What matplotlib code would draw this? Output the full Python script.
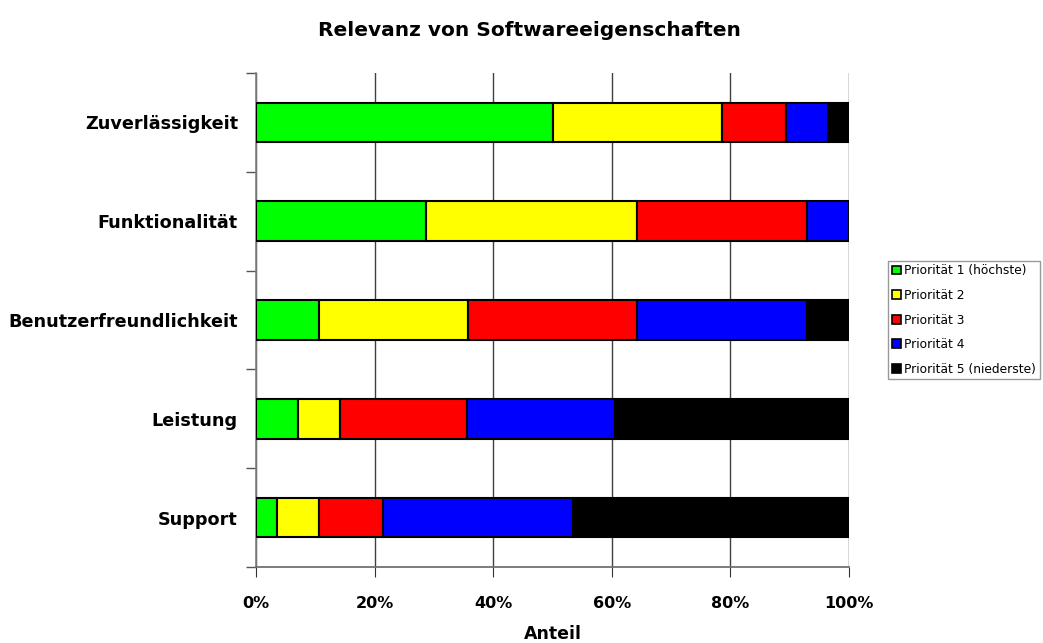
import matplotlib.pyplot as plt
import matplotlib.ticker as mticker
import numpy as np

# Kategorien (von oben nach unten)
kategorien = ['Zuverlässigkeit', 'Funktionalität', 'Benutzerfreundlichkeit', 'Leistung', 'Support']
# Anteile in % je Priorität
prio1 = [50.0, 28.6, 10.7, 7.1, 3.6]
prio2 = [28.6, 35.7, 25.0, 7.1, 7.1]
prio3 = [10.7, 28.6, 28.6, 21.4, 10.7]
prio4 = [7.1, 7.1, 28.6, 25.0, 32.1]
prio5 = [3.6, 0.0, 7.1, 39.3, 46.4]
serien = ['Priorität 1 (höchste)', 'Priorität 2', 'Priorität 3', 'Priorität 4', 'Priorität 5 (niederste)']
farben = ['#00ff00', '#ffff00', '#ff0000', '#0000ff', '#000000']

plt.rcParams['font.family'] = ['DejaVu Sans']

fig = plt.figure(figsize=(10.43, 6.43), dpi=100)
ax = fig.add_axes([256 / 1043, 76 / 643, 593 / 1043, 494 / 643])

y = np.arange(len(kategorien))[::-1]
links = np.zeros(len(kategorien))
for werte, name, farbe in zip([prio1, prio2, prio3, prio4, prio5], serien, farben):
    ax.barh(y, werte, left=links, height=0.4, color=farbe, edgecolor='black',
            linewidth=1.5, label=name, zorder=3)
    links += np.array(werte)

ax.set_xlim(0, 100)
ax.set_ylim(-0.5, len(kategorien) - 0.5)
ax.xaxis.set_major_locator(mticker.MultipleLocator(20))
ax.xaxis.set_major_formatter(mticker.FuncFormatter(lambda v, p: '%d%%' % v))
ax.set_yticks(y)
ax.set_yticklabels(kategorien, fontsize=12.7, fontweight='bold')
ax.set_yticks(np.arange(-0.5, len(kategorien)), minor=True)
ax.tick_params(axis='y', which='major', length=0, pad=13)
ax.tick_params(axis='y', which='minor', length=7, color='#555555', width=1)
ax.tick_params(axis='x', length=7, color='#333333', labelsize=11.5, pad=14)
for lbl in ax.get_xticklabels():
    lbl.set_fontweight('bold')
ax.grid(axis='x', color='#404040', linewidth=1, zorder=0)

for s in ['top', 'right']:
    ax.spines[s].set_visible(False)
ax.spines['left'].set_color('#808080')
ax.spines['bottom'].set_color('#666666')
ax.spines['left'].set_linewidth(1.2)
ax.spines['bottom'].set_linewidth(1.2)

ax.set_xlabel('Anteil', fontsize=12.5, fontweight='bold', labelpad=10)
fig.text(529 / 1043, 1 - 30 / 643, 'Relevanz von Softwareeigenschaften', ha='center', va='center',
         fontsize=14.5, fontweight='bold')

handles, labels = ax.get_legend_handles_labels()
leg = fig.legend(handles, labels, loc='center left', bbox_to_anchor=(888 / 1043, 1 - 320 / 643),
                 fontsize=8.8, frameon=True, fancybox=False, edgecolor='#808080', borderpad=0.3,
                 borderaxespad=0, handlelength=0.75, handleheight=0.75, handletextpad=0.3,
                 labelspacing=0.95)
leg.get_frame().set_linewidth(1)
for h in leg.legend_handles:
    h.set_linewidth(1.2)

fig.savefig('out.png', dpi=100, facecolor='white')
